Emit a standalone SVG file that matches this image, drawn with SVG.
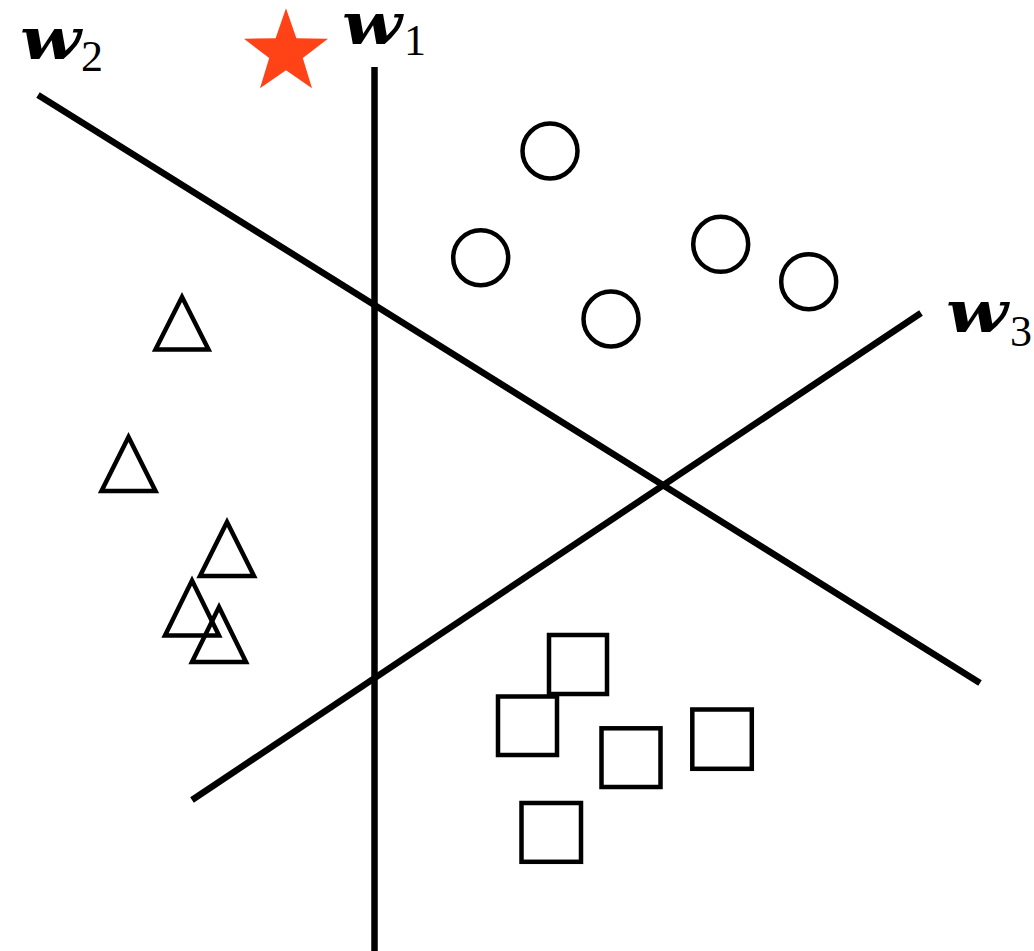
<svg xmlns="http://www.w3.org/2000/svg" width="1034" height="951" viewBox="0 0 1034 951">
  <style>
    .hp { stroke: #000; stroke-width: 6.5; fill: none; stroke-linecap: butt; }
    .pt { stroke: #000; stroke-width: 4.5; fill: none; stroke-linejoin: miter; }
    .w { font-family: "DejaVu Serif", "Liberation Serif", serif; font-weight: bold; font-style: italic; font-size: 58px; fill: #000; }
    .sub { font-family: "Liberation Serif", "DejaVu Serif", serif; font-size: 44px; fill: #000; }
  </style>
  <rect width="1034" height="951" fill="#fff"/>
  <g id="hyperplanes">
    <line id="w1-line" class="hp" x1="374.5" y1="67" x2="374.5" y2="951"/>
    <line id="w2-line" class="hp" x1="38" y1="95" x2="980" y2="683"/>
    <line id="w3-line" class="hp" x1="192" y1="800" x2="921" y2="313"/>
  </g>
  <g id="labels">
    <g id="label-w1">
      <text class="w" x="342" y="44" textLength="60" lengthAdjust="spacingAndGlyphs">w</text>
      <text class="sub" x="404" y="55">1</text>
    </g>
    <g id="label-w2">
      <text class="w" x="20" y="59" textLength="61" lengthAdjust="spacingAndGlyphs">w</text>
      <text class="sub" x="81" y="71">2</text>
    </g>
    <g id="label-w3">
      <text class="w" x="946" y="332" textLength="62" lengthAdjust="spacingAndGlyphs">w</text>
      <text class="sub" x="1010" y="346">3</text>
    </g>
  </g>
  <g id="star">
    <polygon fill="#FF4316" points="286,8.3 296.4,38.2 328,38.8 302.8,58 312,88.3 286,70.2 260,88.3 269.2,58 244,38.8 275.6,38.2"/>
  </g>
  <g id="circles">
    <circle class="pt" cx="550" cy="151" r="27.5"/>
    <circle class="pt" cx="480.7" cy="257.7" r="27.5"/>
    <circle class="pt" cx="611" cy="319" r="27.5"/>
    <circle class="pt" cx="720.7" cy="244.3" r="27.5"/>
    <circle class="pt" cx="808.7" cy="281.7" r="27.5"/>
  </g>
  <g id="triangles">
    <polygon class="pt" points="182,297 208.5,349.5 155.5,349.5"/>
    <polygon class="pt" points="128.5,437 155.5,491 101.5,491"/>
    <polygon class="pt" points="227,522 254,576 200,576"/>
    <polygon class="pt" points="192,580.5 219,635.5 165,635.5"/>
    <polygon class="pt" points="219,607 246,662 192,662"/>
  </g>
  <g id="squares">
    <rect class="pt" x="549" y="635" width="58" height="59"/>
    <rect class="pt" x="498" y="696.5" width="59" height="58.5"/>
    <rect class="pt" x="601.5" y="728.3" width="59" height="58.7"/>
    <rect class="pt" x="692.3" y="709.5" width="59.5" height="59.3"/>
    <rect class="pt" x="521.5" y="803" width="59.5" height="58.8"/>
  </g>
</svg>
